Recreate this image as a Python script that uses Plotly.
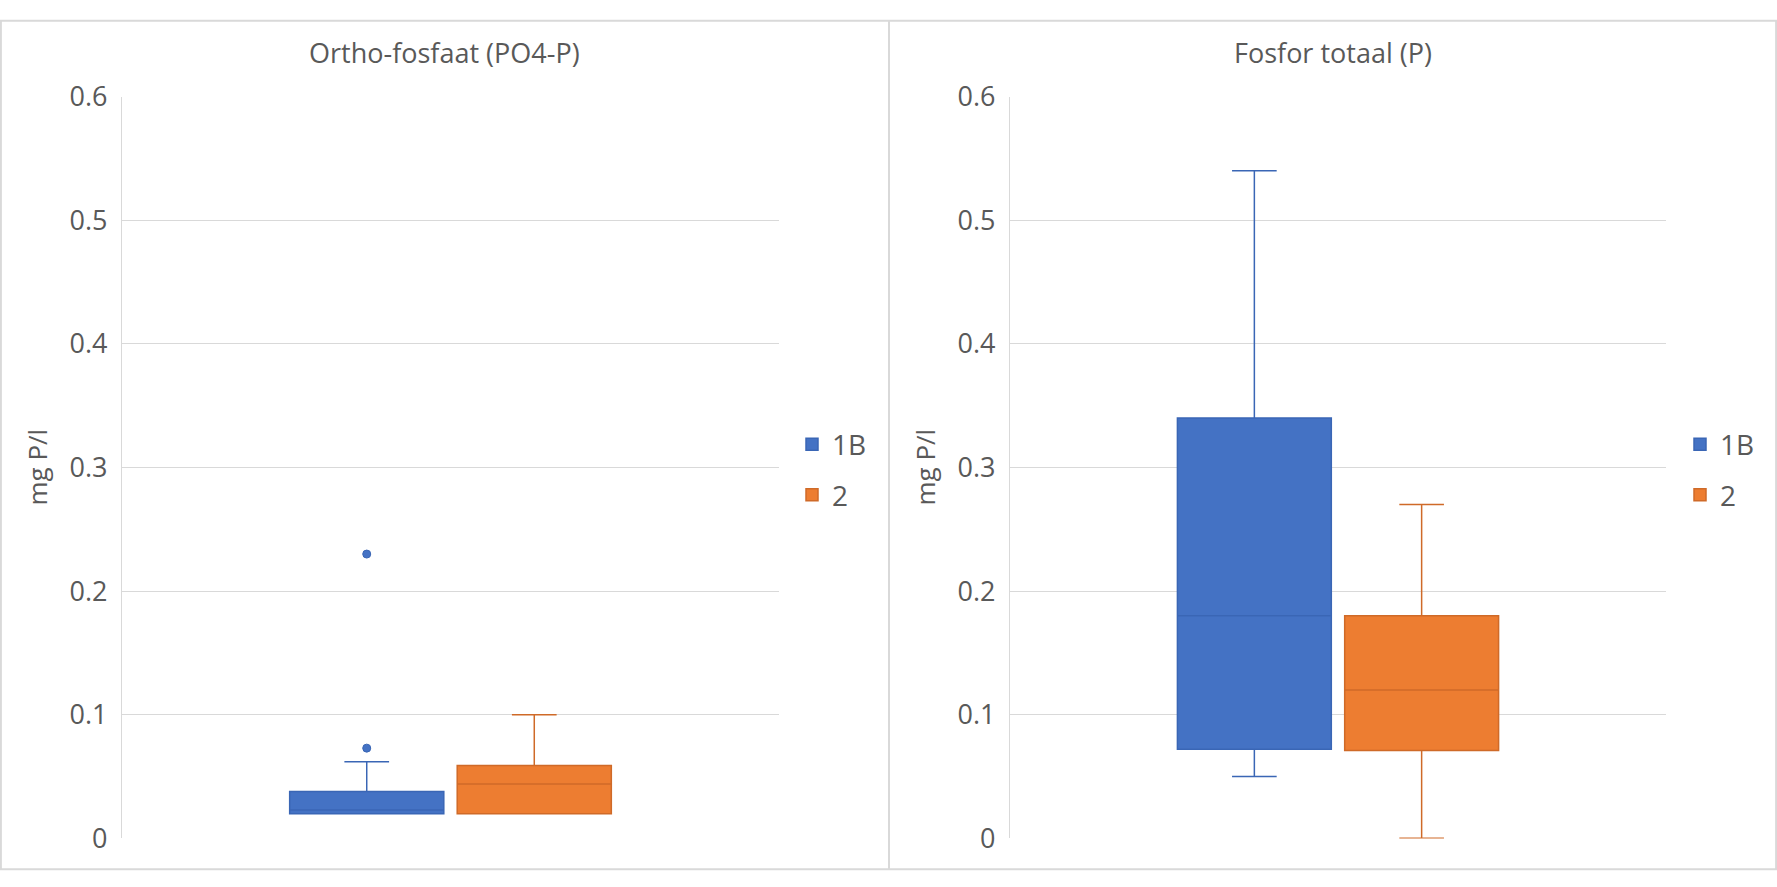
import plotly.graph_objects as go

# ---- data ----
CATEGORY = ["Meetpunt"]
SERIES = ["1B", "2"]
PANEL_TITLES = ["Ortho-fosfaat (PO4-P)", "Fosfor totaal (P)"]
Y_TITLE = "mg P/l"
TICK_VALUES = [0, 0.1, 0.2, 0.3, 0.4, 0.5, 0.6]
TICK_LABELS = ["0", "0.1", "0.2", "0.3", "0.4", "0.5", "0.6"]

# Ortho-fosfaat
ortho_lower = [0.020, 0.020]
ortho_q1 = [0.020, 0.020]
ortho_median = [0.023, 0.044]
ortho_q3 = [0.038, 0.059]
ortho_upper = [0.062, 0.100]
ortho_outliers = [[0.073, 0.230], []]

# Fosfor totaal
ptot_lower = [0.050, 0.000]
ptot_q1 = [0.072, 0.071]
ptot_median = [0.180, 0.120]
ptot_q3 = [0.340, 0.180]
ptot_upper = [0.540, 0.270]
ptot_outliers = [[], []]

FILL = ["#4472C4", "#ED7D31"]
EDGE = ["#3A66B5", "#CF6A28"]

W, H = 1777, 887
TXT = "#595959"
GRID = "#D9D9D9"
FONT = "Open Sans"


def px(x):
    return x / W


def py(y):
    return 1 - y / H


fig = go.Figure()

panels = [
    (ortho_lower, ortho_q1, ortho_median, ortho_q3, ortho_upper, ortho_outliers),
    (ptot_lower, ptot_q1, ptot_median, ptot_q3, ptot_upper, ptot_outliers),
]

for p, (lo, q1, med, q3, up, outl) in enumerate(panels):
    xa = "x" if p == 0 else "x2"
    ya = "y" if p == 0 else "y2"
    lg = "legend" if p == 0 else "legend2"
    for i, name in enumerate(SERIES):
        fig.add_trace(go.Box(
            name=name,
            x=CATEGORY,
            y=[outl[i]] if outl[i] else None,
            lowerfence=[lo[i]], q1=[q1[i]], median=[med[i]],
            q3=[q3[i]], upperfence=[up[i]],
            boxpoints="outliers" if outl[i] else False,
            jitter=0, pointpos=0,
            fillcolor=FILL[i],
            line=dict(color=EDGE[i], width=1.5),
            marker=dict(color=FILL[i], size=8,
                        line=dict(color=EDGE[i], width=1)),
            whiskerwidth=0.29,
            offsetgroup=name,
            legendgroup=name + str(p),
            legend=lg,
            xaxis=xa, yaxis=ya,
            hoverinfo="skip",
        ))

ydom = [py(854), py(80)]
axis_common = dict(
    range=[0, 0.6], tickvals=TICK_VALUES, ticktext=TICK_LABELS,
    showgrid=True, gridcolor=GRID, gridwidth=1.3,
    zeroline=False, showline=True, linecolor=GRID, linewidth=1.3,
    tickfont=dict(family=FONT, size=27, color=TXT),
    ticklabelstandoff=8, ticks="", domain=ydom,
)
xaxis_common = dict(
    type="category", range=[-0.5, 0.5], showticklabels=False,
    showgrid=False, zeroline=False, showline=False, ticks="",
)

legend_common = dict(
    xanchor="left", yanchor="top",
    font=dict(family=FONT, size=28, color=TXT),
    tracegroupgap=11, traceorder="grouped",
    bgcolor="rgba(0,0,0,0)",
)

fig.update_layout(
    autosize=True,
    margin=dict(l=0, r=0, t=0, b=0, pad=0),
    paper_bgcolor="white", plot_bgcolor="white",
    boxmode="group", boxgap=0.49, boxgroupgap=0.08,
    xaxis=dict(domain=[px(122), px(779)], anchor="y", **xaxis_common),
    xaxis2=dict(domain=[px(1010), px(1666)], anchor="y2", **xaxis_common),
    yaxis=dict(anchor="x", **axis_common),
    yaxis2=dict(anchor="x2", **axis_common),
    legend=dict(x=px(792), y=py(417), **legend_common),
    legend2=dict(x=px(1680), y=py(417), **legend_common),
    showlegend=True,
    font=dict(family=FONT, color=TXT),
)

annotations = []
for p, (cx, tx) in enumerate([(444, 37), (1333, 925)]):
    annotations.append(dict(
        text=PANEL_TITLES[p], x=px(cx), y=py(34), xref="paper", yref="paper",
        xanchor="center", yanchor="middle", showarrow=False,
        font=dict(family=FONT, size=27, color=TXT)))
    annotations.append(dict(
        text=Y_TITLE, x=px(tx), y=py(467), xref="paper", yref="paper",
        xanchor="center", yanchor="middle", showarrow=False, textangle=-90,
        font=dict(family=FONT, size=26, color=TXT)))
fig.update_layout(annotations=annotations)

fig.update_layout(shapes=[
    dict(type="rect", xref="paper", yref="paper", x0=0.0005, y0=0.001,
         x1=0.9995, y1=0.999, line=dict(color=GRID, width=2)),
    dict(type="line", xref="paper", yref="paper", x0=px(889), x1=px(889),
         y0=0, y1=1, line=dict(color=GRID, width=2)),
])

POST = ("document.documentElement.style.margin='0';"
        "document.body.style.margin='0';document.body.style.padding='0';"
        "document.body.style.overflow='hidden';"
        "document.documentElement.style.overflow='hidden';"
        "var gd=document.getElementById('{plot_id}');"
        "gd.style.position='fixed';gd.style.left='0';gd.style.top='0';"
        "gd.style.width='100vw';gd.style.height='100vh';"
        "Plotly.Plots.resize(gd);")

fig.write_html("out.html", post_script=POST,
               default_width="100vw", default_height="100vh",
               config={"displayModeBar": False, "responsive": True})
